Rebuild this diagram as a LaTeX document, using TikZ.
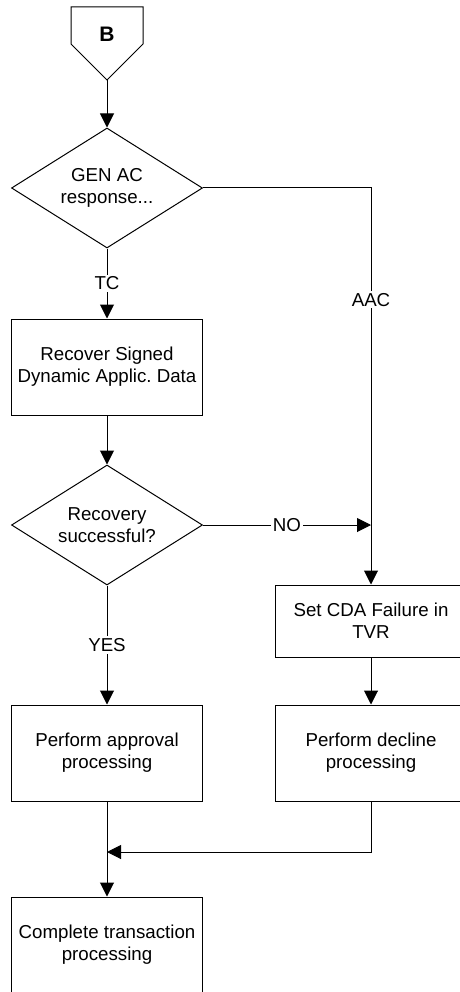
\documentclass[tikz,border=0pt]{standalone}
\usepackage{fontspec}
\setmainfont{Liberation Sans}
\usetikzlibrary{arrows.meta,shapes.geometric}
\frenchspacing

\begin{document}
\begin{tikzpicture}[x=1pt, y=-1pt, line width=1pt, >={Triangle[length=14pt,width=14pt]},
    font=\fontsize{18.7}{22}\selectfont,
    hop/.style={draw, rectangle, minimum width=191pt, minimum height=96pt, align=center, inner sep=0pt},
    thoi/.style={draw, diamond, aspect=1.58, minimum width=191pt, minimum height=120pt, align=center, inner sep=0pt},
    nhan/.style={fill=white, inner sep=2pt}]
    % 1. Khung hình
    \useasboundingbox (0,0) rectangle (459,992);

    % 2. Ký hiệu nối trang B
    \draw (71,7) -- (143,7) -- (143,44) -- (107,80) -- (71,44) -- cycle;
    \node (B) at (107,34) {\fontsize{21}{22}\selectfont\bfseries B};
    \coordinate (Bdinh) at (107,80);

    % 3. Các khối
    \node[thoi] (genac) at (107,188) {GEN AC\\response...};
    \node[hop] (khoiphuc) at (107,367) {Recover Signed\\Dynamic Applic. Data};
    \node[thoi] (thanhcong) at (107,525) {Recovery\\successful?};
    \node[hop, minimum height=72pt] (tvr) at (371,621) {Set CDA Failure in\\TVR};
    \node[hop] (chapnhan) at (107,753) {Perform approval\\processing};
    \node[hop] (tuchoi) at (371,753) {Perform decline\\processing};
    \node[hop] (hoantat) at (107,945) {Complete transaction\\processing};

    % 4. Các điểm phụ
    \coordinate (giao) at (tvr.north |- thanhcong.east);
    \coordinate (gop) at (107,852);

    % 5. Đường nối
    \draw[->] (Bdinh) -- (genac.north);
    \draw[->] (genac.south) -- node[nhan] {TC} (khoiphuc.north);
    \draw[->] (genac.east) -| node[nhan, pos=0.641] {AAC} (tvr.north);
    \draw[->] (khoiphuc.south) -- (thanhcong.north);
    \draw[->] (thanhcong.east) -- node[nhan] {NO} (giao);
    \draw[->] (thanhcong.south) -- node[nhan] {YES} (chapnhan.north);
    \draw[->] (tvr.south) -- (tuchoi.north);
    \draw[->] (tuchoi.south) |- (gop);
    \draw[->] (chapnhan.south) -- (hoantat.north);
\end{tikzpicture}
\end{document}
